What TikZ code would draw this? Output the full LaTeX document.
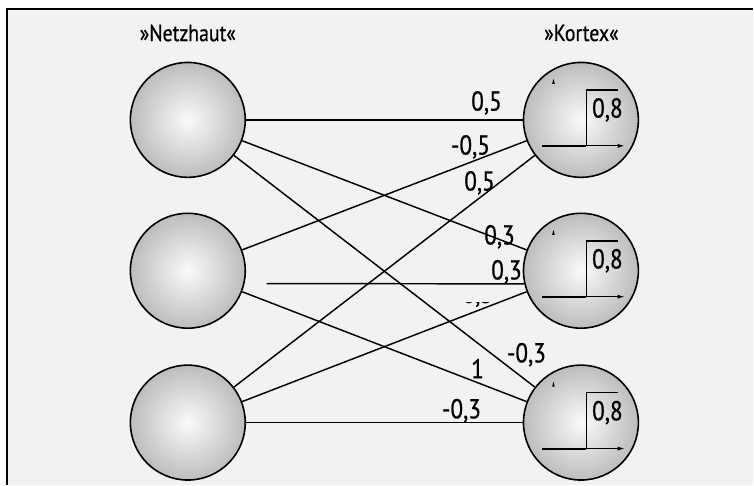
\documentclass[tikz,border=0pt]{standalone}
\usepackage{fontspec}
\setmainfont[FakeStretch=0.85,FakeBold=0.7]{PT Sans}
\usetikzlibrary{arrows.meta}
\definecolor{panel}{HTML}{F2F2F2}
\begin{document}
\begin{tikzpicture}[x=0.75pt,y=-0.75pt,
  neuron/.style={circle, draw=black, line width=1.2pt, minimum size=86.25pt,
    inner sep=0pt, shading=radial, inner color=gray!4, outer color=gray!52},
  link/.style={line width=1.1pt},
  thinlink/.style={line width=0.7pt},
  wt/.style={font=\fontsize{20.5}{23}\selectfont, inner sep=0pt},
  head/.style={font=\fontsize{17.5}{20}\selectfont, inner sep=0pt}]

% page and panel
\fill[white] (0,0) rectangle (754,485);
\fill[panel] (7,9) rectangle (754,485);
\draw[line width=1.1pt] (7,485) -- (7,9) -- (754,9);

% headings
\node[head] (hnetz) at (188,33) {»Netzhaut«};
\node[head] (hkort) at (582,33) {»Kortex«};

% neurons
\node[neuron] (L1) at (188,120) {};
\node[neuron] (L2) at (188,271) {};
\node[neuron] (L3) at (188,423) {};
\node[neuron] (R1) at (581.5,120) {};
\node[neuron] (R2) at (581.5,271) {};
\node[neuron] (R3) at (581.5,423) {};

% connections
\draw[link] (L1) -- (R1);
\draw[link] (L1) -- (R2);
\draw[link] (L1) -- (R3);
\draw[link] (L2) -- (R1);
\coordinate (hstart) at (267,283.9);
\draw[link] (hstart) -- (R2.193);
\draw[link] (L2) -- (R3);
\draw[link] (L3) -- (R1);
\draw[link] (L3) -- (R2);
\draw[thinlink] (L3) -- (R3);

% weights
\node[wt] (w11) at (487,103) {0,5};
\node[wt] (w21) at (471,147) {-0,5};
\node[wt] (w31) at (480,183) {0,5};
\node[wt] (w12) at (500,237) {0,3};
\node[wt] (w22) at (507,272) {0,3};
\begin{scope}
  \clip (440,302.5) rectangle (500,310);
  \node[wt] (w32) at (474,295.5) {-0,3};
\end{scope}
\node[wt] (w13) at (527,355) {-0,3};
\node[wt] (w23) at (478,369) {1};
\node[wt] (w33) at (462,411) {-0,3};

% threshold step inside each output neuron
\foreach \n in {R1,R2,R3}{
  \begin{scope}[shift={(\n.center)}]
    \draw[line width=0.6pt,-{Latex[length=5pt,width=3pt]}] (-38.5,26) -- (43.5,26);
    \draw[line width=1.6pt] (-38.5,26) -- (5.5,26);
    \draw[line width=1.1pt] (5.5,26) -- (5.5,-30) -- (37.5,-30);
    \fill (-27.5,-41) -- (-26.2,-36) -- (-28.8,-36) -- cycle;
    \node[wt] (\n th) at (26.5,-10) {0,8};
  \end{scope}
}
\end{tikzpicture}
\end{document}
